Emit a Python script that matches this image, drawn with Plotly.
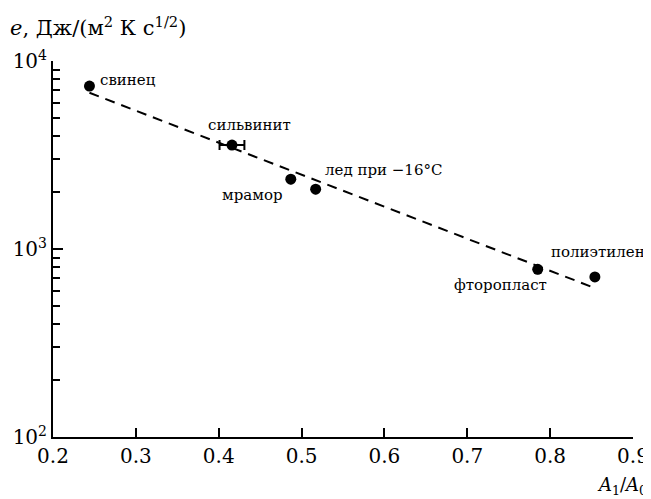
import numpy as np
import plotly.graph_objects as go

# Data
materials = ["свинец", "сильвинит", "мрамор", "лед при −16°C", "фторопласт", "полиэтилен"]
ratio_a1_a0 = [0.244, 0.416, 0.487, 0.517, 0.785, 0.854]
effusivity = [7360, 3570, 2353, 2082, 780, 710]
ratio_err = [0, 0.015, 0, 0, 0, 0]

# Fit line endpoints
fit_x = [0.244, 0.851]
fit_y = [6780, 627]

# Tick labels
y_tickvals = [100, 1000, 10000]
y_ticktext = ["10<sup>2</sup>", "10<sup>3</sup>", "10<sup>4</sup>"]

# Label placement (pixel offsets from points)
label_anchor = ["left", "center", "right", "left", "right", "left"]
label_dx = [9, 18, -6, 7, 11, -46]
label_dy = [6, 20, -16, 19, -16, 25]

FONT = "DejaVu Serif"

# page body has an 8px margin, so the figure is 8px smaller than the window
W, H = 643, 491

fig = go.Figure()

fig.add_trace(go.Scatter(
    x=fit_x, y=fit_y, mode="lines",
    line=dict(color="black", width=2, dash="10px,7px"),
    showlegend=False, hoverinfo="skip"))

fig.add_trace(go.Scatter(
    x=ratio_a1_a0, y=effusivity, mode="markers",
    marker=dict(color="black", size=11),
    error_x=dict(type="data", array=ratio_err, visible=True,
                 color="black", thickness=2, width=5),
    showlegend=False))

for name, xv, yv, anc, dx, dy in zip(materials, ratio_a1_a0, effusivity,
                                      label_anchor, label_dx, label_dy):
    fig.add_annotation(x=xv, y=np.log10(yv), text=name, showarrow=False,
                       xanchor=anc, yanchor="middle", xshift=dx, yshift=dy,
                       font=dict(family=FONT, size=15, color="black"))

fig.add_annotation(xref="paper", yref="paper", x=1.027, y=-0.13,
                   text="<i>A</i><sub>1</sub>/<i>A</i><sub>0</sub>",
                   showarrow=False, xanchor="right", yanchor="middle",
                   font=dict(family=FONT, size=18, color="black"))

fig.update_layout(
    width=W, height=H,
    margin=dict(l=45, r=18, t=53, b=62, autoexpand=False),
    paper_bgcolor="white", plot_bgcolor="white",
    font=dict(family=FONT, color="black"),
    title=dict(text="<i>e</i>, Дж/(м<sup>2</sup> К с<sup>1/2</sup>)",
               x=2/W, xanchor="left", xref="container",
               y=1-20/H, yanchor="middle", yref="container",
               pad=dict(l=0, r=0, t=0, b=0),
               font=dict(family=FONT, size=21, color="black")),
    xaxis=dict(range=[0.2, 0.9], dtick=0.1, tick0=0.2, tickformat=".1f",
               automargin=False,
               showgrid=False, zeroline=False,
               showline=True, linecolor="black", linewidth=2,
               ticks="inside", ticklen=9, tickwidth=2, tickcolor="black",
               tickfont=dict(family=FONT, size=20, color="black")),
    yaxis=dict(type="log", range=[2, 4], automargin=False,
               tickvals=y_tickvals, ticktext=y_ticktext,
               showgrid=False, zeroline=False,
               showline=True, linecolor="black", linewidth=2,
               ticks="inside", ticklen=10, tickwidth=2, tickcolor="black",
               tickfont=dict(family=FONT, size=20, color="black"),
               minor=dict(ticks="inside", ticklen=7, tickwidth=2,
                          tickcolor="black", dtick="D1", showgrid=False)),
)

fig.write_html("out.html")
